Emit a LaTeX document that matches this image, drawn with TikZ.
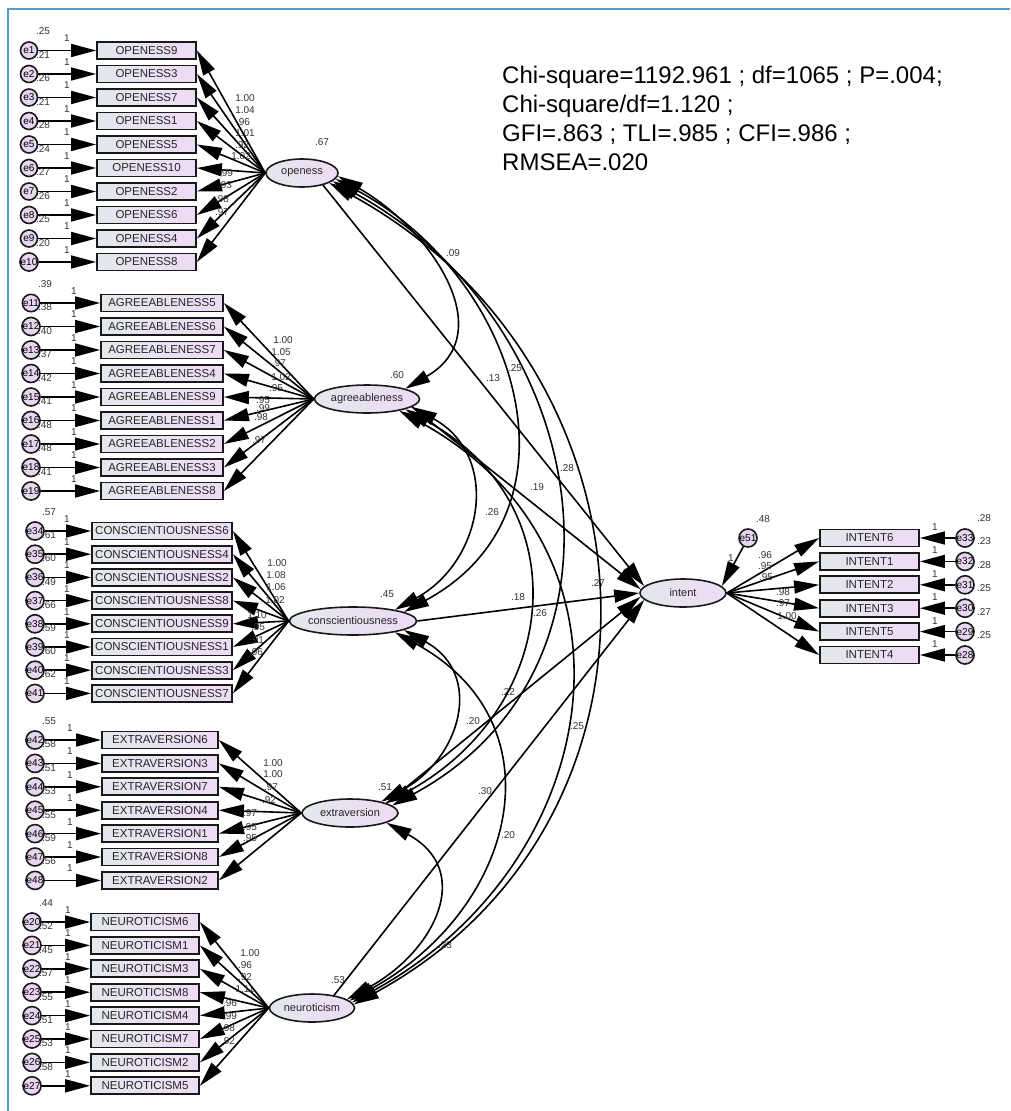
\documentclass[tikz,border=0pt]{standalone}
\usepackage{fontspec}
\setmainfont{Liberation Sans}
\usetikzlibrary{positioning}
\usetikzlibrary{arrows.meta}
\usetikzlibrary{shapes.geometric}

\definecolor{boxl}{HTML}{E3E8EC}
\definecolor{boxr}{HTML}{EEDBF5}
\definecolor{errc}{HTML}{E8D6F0}
\definecolor{framec}{HTML}{5B9BD5}

\tikzset{
  obs/.style={draw=black!90, line width=1.8pt, left color=boxl, right color=boxr,
    minimum height=17pt, inner sep=0pt, text=black!85, font=\fontsize{11.5}{11.5}\selectfont},
  lat/.style={ellipse, draw=black!90, line width=1.6pt, left color=boxl, right color=boxr,
    minimum height=28pt, inner sep=0pt, text=black!85, font=\fontsize{11}{11}\selectfont},
  err/.style={circle, draw=black!90, line width=1.6pt, fill=errc, minimum size=17pt,
    inner sep=0pt, font=\fontsize{10}{10}\selectfont},
  num/.style={font=\fontsize{10}{10}\selectfont, text=black!80, inner sep=0pt},
  arr/.style={-{Triangle[length=25pt,width=13pt]}, line width=1.6pt},
  cov/.style={{Triangle[length=25pt,width=13pt]}-{Triangle[length=25pt,width=13pt]}, line width=1.6pt},
}

\begin{document}
\begin{tikzpicture}[x=1pt, y=-1pt]
  \useasboundingbox (0,0) rectangle (1010,1111);
  \draw[framec, line width=1.2pt] (8,1111) -- (8,9) -- (1010,9);

  % fit statistics
  \node[anchor=base west, inner sep=0pt, font=\fontsize{24}{29}\selectfont] (s1) at (502,83) {Chi-square=1192.961 ; df=1065 ; P=.004;};
  \node[anchor=base west, inner sep=0pt, font=\fontsize{24}{29}\selectfont] (s2) at (502,112) {Chi-square/df=1.120 ;};
  \node[anchor=base west, inner sep=0pt, font=\fontsize{24}{29}\selectfont] (s3) at (502,141) {GFI=.863 ; TLI=.985 ; CFI=.986 ;};
  \node[anchor=base west, inner sep=0pt, font=\fontsize{24}{29}\selectfont] (s4) at (502,170) {RMSEA=.020};

  % latent variables
  \node[lat, minimum width=72pt] (openess) at (302,173) {openess};
  \node[lat, minimum width=105pt] (agreeableness) at (367,399) {agreeableness};
  \node[lat, minimum width=117pt] (conscientiousness) at (353,621) {conscientiousness};
  \node[lat, minimum width=96pt] (extraversion) at (350,813) {extraversion};
  \node[lat, minimum width=85pt] (neuroticism) at (312,1008) {neuroticism};
  \node[lat, minimum width=86pt] (intent) at (683,593) {intent};

  \node[num] (vopeness) at (322,142) {.67};
  \node[num] (vagree) at (397,375) {.60};
  \node[num] (vconsc) at (387,594) {.45};
  \node[num] (vextra) at (385,787) {.51};
  \node[num] (vneuro) at (338,980) {.53};

  % openess block
  \foreach \lbl/\err/\var [count=\i] in {OPENESS9/e1/.25, OPENESS3/e2/.21, OPENESS7/e3/.26,
      OPENESS1/e4/.21, OPENESS5/e5/.28, OPENESS10/e6/.24, OPENESS2/e7/.27, OPENESS6/e8/.26,
      OPENESS4/e9/.25, OPENESS8/e10/.20}{
    \pgfmathsetmacro{\y}{50.5+(\i-1)*23.5}
    \node[obs, minimum width=99pt] (\lbl) at (146.5,\y) {\lbl};
    \node[err] (\err) at (29,\y) {\err};
    \node[num] (v\err) at (43,\y-19) {\var};
    \node[num] (w\err) at (67,\y-12) {1};
    \draw[arr] (\err) -- (\lbl);
    \draw[arr] (openess.west) -- (\lbl.east);
  }
  \foreach \v/\x/\y [count=\i] in {1.00/245/98, 1.04/245/110, .96/243/122, 1.01/245/133,
      .92/242/145, 1.02/241/156, .99/226/173, .93/225/185, .98/222/199, .97/222/212}
    \node[num] (lO\i) at (\x,\y) {\v};

  % agreeableness block
  \foreach \lbl/\err/\var [count=\i] in {AGREEABLENESS5/e11/.39, AGREEABLENESS6/e12/.38,
      AGREEABLENESS7/e13/.40, AGREEABLENESS4/e14/.37, AGREEABLENESS9/e15/.42,
      AGREEABLENESS1/e16/.41, AGREEABLENESS2/e17/.48, AGREEABLENESS3/e18/.48,
      AGREEABLENESS8/e19/.41}{
    \pgfmathsetmacro{\y}{303+(\i-1)*23.5}
    \node[obs, minimum width=122pt] (\lbl) at (162,\y) {\lbl};
    \node[err] (\err) at (31,\y) {\err};
    \node[num] (v\err) at (45,\y-19) {\var};
    \node[num] (w\err) at (74,\y-12) {1};
    \draw[arr] (\err) -- (\lbl);
    \draw[arr] (agreeableness.west) -- (\lbl.east);
  }
  \foreach \v/\x/\y [count=\i] in {1.00/283/340, 1.05/281/352, .97/279/363, 1.02/281/377,
      .95/276/388, .95/263/400, .99/263/408, .98/261/417, .97/259/440}
    \node[num] (lA\i) at (\x,\y) {\v};

  % conscientiousness block
  \foreach \lbl/\err/\var [count=\i] in {CONSCIENTIOUSNESS6/e34/.57, CONSCIENTIOUSNESS4/e35/.61,
      CONSCIENTIOUSNESS2/e36/.60, CONSCIENTIOUSNESS8/e37/.49, CONSCIENTIOUSNESS9/e38/.66,
      CONSCIENTIOUSNESS1/e39/.59, CONSCIENTIOUSNESS3/e40/.60, CONSCIENTIOUSNESS7/e41/.62}{
    \pgfmathsetmacro{\y}{531+(\i-1)*23.2}
    \node[obs, minimum width=140pt] (\lbl) at (162,\y) {\lbl};
    \node[err] (\err) at (35,\y) {\err};
    \node[num] (v\err) at (49,\y-19) {\var};
    \node[num] (w\err) at (67,\y-12) {1};
    \draw[arr] (\err) -- (\lbl);
    \draw[arr] (conscientiousness.west) -- (\lbl.east);
  }
  \foreach \v/\x/\y [count=\i] in {1.00/277/563, 1.08/276/575, 1.06/276/587, 1.02/275/600,
      1.10/257/615, .95/258/627, .91/257/640, .96/256/652}
    \node[num] (lC\i) at (\x,\y) {\v};

  % extraversion block
  \foreach \lbl/\err/\var [count=\i] in {EXTRAVERSION6/e42/.55, EXTRAVERSION3/e43/.58,
      EXTRAVERSION7/e44/.51, EXTRAVERSION4/e45/.53, EXTRAVERSION1/e46/.55,
      EXTRAVERSION8/e47/.59, EXTRAVERSION2/e48/.56}{
    \pgfmathsetmacro{\y}{740+(\i-1)*23.4}
    \node[obs, minimum width=116pt] (\lbl) at (160,\y) {\lbl};
    \node[err] (\err) at (35,\y) {\err};
    \node[num] (v\err) at (49,\y-19) {\var};
    \node[num] (w\err) at (70,\y-12) {1};
    \draw[arr] (\err) -- (\lbl);
    \draw[arr] (extraversion.west) -- (\lbl.east);
  }
  \foreach \v/\x/\y [count=\i] in {1.00/273/763, 1.00/273/774, .97/271/787, .92/269/800,
      .97/250/813, .95/250/827, .95/250/838}
    \node[num] (lE\i) at (\x,\y) {\v};

  % neuroticism block
  \foreach \lbl/\err/\var [count=\i] in {NEUROTICISM6/e20/.44, NEUROTICISM1/e21/.52,
      NEUROTICISM3/e22/.45, NEUROTICISM8/e23/.57, NEUROTICISM4/e24/.55,
      NEUROTICISM7/e25/.51, NEUROTICISM2/e26/.53, NEUROTICISM5/e27/.58}{
    \pgfmathsetmacro{\y}{922+(\i-1)*23.4}
    \node[obs, minimum width=108pt] (\lbl) at (145,\y) {\lbl};
    \node[err] (\err) at (32,\y) {\err};
    \node[num] (v\err) at (46,\y-19) {\var};
    \node[num] (w\err) at (68,\y-12) {1};
    \draw[arr] (\err) -- (\lbl);
    \draw[arr] (neuroticism.west) -- (\lbl.east);
  }
  \foreach \v/\x/\y [count=\i] in {1.00/250/953, .96/245/965, .92/245/977, 1.11/245/989,
      .96/230/1003, .99/230/1016, .98/228/1028, .92/228/1041}
    \node[num] (lN\i) at (\x,\y) {\v};

  % intent block
  \foreach \lbl/\err/\var [count=\i] in {INTENT6/e33/.28, INTENT1/e32/.23, INTENT2/e31/.28,
      INTENT3/e30/.25, INTENT5/e29/.27, INTENT4/e28/.25}{
    \pgfmathsetmacro{\y}{538+(\i-1)*23.4}
    \node[obs, minimum width=99pt] (\lbl) at (869.5,\y) {\lbl};
    \node[err] (\err) at (965,\y) {\err};
    \node[num] (v\err) at (984,\y-20) {\var};
    \node[num] (w\err) at (935,\y-11) {1};
    \draw[arr] (\err) -- (\lbl);
    \draw[arr] (intent.east) -- (\lbl.west);
  }
  \foreach \v/\x/\y [count=\i] in {.96/765/555, .95/765/566, .95/766/577, .98/783/592,
      .97/783/603, 1.00/787/616}
    \node[num] (lI\i) at (\x,\y) {\v};

  \node[err] (e51) at (748,538) {e51};
  \node[num] (ve51) at (763,519) {.48};
  \node[num] (we51) at (731,558) {1};
  \draw[arr] (e51) -- (intent.10);

  % regressions on intent
  \draw[arr] (openess.-30) -- (intent.170);
  \draw[arr] (agreeableness.-10) -- (intent.175);
  \draw[arr] (conscientiousness.east) -- (intent.west);
  \draw[arr] (extraversion.15) -- (intent.185);
  \draw[arr] (neuroticism.30) -- (intent.190);
  \node[num] (pO) at (493,378) {.13};
  \node[num] (pA) at (537,487) {.19};
  \node[num] (pC) at (518,597) {.18};
  \node[num] (pE) at (508,692) {.22};
  \node[num] (pN) at (485,791) {.30};

  % covariances
  \draw[cov] (openess.-5) .. controls +(95,55) and +(95,-55) .. (agreeableness.15);
  \draw[cov] (openess.-10) .. controls +(185,100) and +(185,-100) .. (conscientiousness.10);
  \draw[cov] (openess.-15) .. controls +(258,140) and +(258,-140) .. (extraversion.10);
  \draw[cov] (openess.-20) .. controls +(338,185) and +(338,-185) .. (neuroticism.5);
  \draw[cov] (agreeableness.-10) .. controls +(89,49) and +(89,-49) .. (conscientiousness.15);
  \draw[cov] (agreeableness.-15) .. controls +(175,96) and +(175,-96) .. (extraversion.15);
  \draw[cov] (agreeableness.-20) .. controls +(255,140) and +(255,-140) .. (neuroticism.8);
  \draw[cov] (conscientiousness.-10) .. controls +(80,44) and +(80,-44) .. (extraversion.20);
  \draw[cov] (conscientiousness.-15) .. controls +(167,92) and +(167,-92) .. (neuroticism.11);
  \draw[cov] (extraversion.-15) .. controls +(88,48) and +(88,-48) .. (neuroticism.14);
  \node[num] (cOA) at (453,253) {.09};
  \node[num] (cOC) at (515,368) {.25};
  \node[num] (cOE) at (567,468) {.28};
  \node[num] (cON) at (598,583) {.27};
  \node[num] (cAC) at (492,512) {.26};
  \node[num] (cAE) at (540,613) {.26};
  \node[num] (cAN) at (577,726) {.25};
  \node[num] (cCE) at (473,721) {.20};
  \node[num] (cCN) at (508,835) {.20};
  \node[num] (cEN) at (445,945) {.23};
\end{tikzpicture}
\end{document}
